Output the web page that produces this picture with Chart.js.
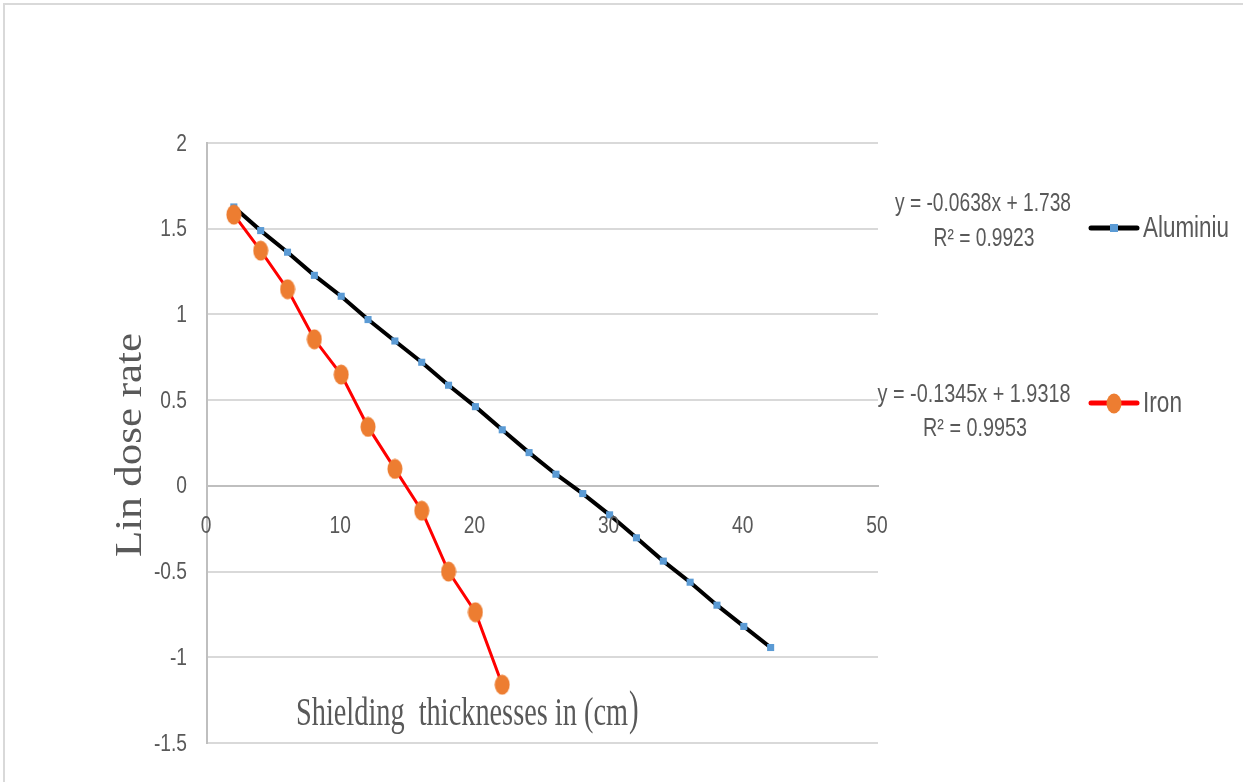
<!DOCTYPE html>
<html>
<head>
<meta charset="utf-8">
<script src="https://cdn.jsdelivr.net/npm/chart.js@4.4.1/dist/chart.umd.min.js"></script>
<style>
  html, body { margin: 0; padding: 0; background: #fff; }
  #wrap { width: 1243px; height: 782px; position: relative; }
</style>
</head>
<body>
<div id="wrap"><canvas id="chart" width="1243" height="782"></canvas></div>
<script>
// shielding thickness (cm) and ln dose rate readings
var thicknessAl = [2, 4, 6, 8, 10, 12, 14, 16, 18, 20, 22, 24, 26, 28, 30, 32, 34, 36, 38, 40, 42];
var doseAl = [1.627, 1.489, 1.363, 1.228, 1.106, 0.970, 0.845, 0.721, 0.587, 0.462, 0.327,
              0.194, 0.068, -0.045, -0.169, -0.303, -0.439, -0.562, -0.696, -0.820, -0.943];

var thicknessFe = [2, 4, 6, 8, 10, 12, 14, 16, 18, 20, 22];
var doseFe = [1.582, 1.372, 1.147, 0.855, 0.649, 0.344, 0.099, -0.145, -0.500, -0.737, -1.160];

var seriesNames = ['Aluminiu', 'Iron'];
var trendLines = [
  ['y = -0.0638x + 1.738', 'R\u00b2 = 0.9923'],
  ['y = -0.1345x + 1.9318', 'R\u00b2 = 0.9953']
];
var xTicks = [0, 10, 20, 30, 40, 50];
var yRange = [-1.5, 2];

var xTitle = 'Shielding  thicknesses in (cm';
var yTitle = 'Lin dose rate';

var textGrey = '#595959';
var sans = '"Liberation Sans", Arial, sans-serif';
var squeeze = 0.8; // the original uses a condensed face

function toPoints(xs, ys) {
  var pts = [];
  xs.forEach(function (x, i) {
    pts.push({x: x, y: ys[i]});
  });
  return pts;
}

function makeEllipse(w, h, color) {
  var c = document.createElement('canvas');
  c.width = w;
  c.height = h;
  var g = c.getContext('2d');
  g.fillStyle = color;
  g.beginPath();
  g.ellipse(w / 2, h / 2, w / 2 - 0.5, h / 2 - 0.5, 0, 0, 2 * Math.PI);
  g.fill();
  return c;
}

var ironDot = makeEllipse(16, 21, '#ed7d31');

// draw text centred on (cx, cy), squeezed to a given width
function fitText(ctx, text, cx, cy, width, font, cross) {
  ctx.save();
  ctx.font = font;
  ctx.fillStyle = textGrey;
  ctx.textAlign = 'center';
  ctx.textBaseline = 'middle';
  var m = ctx.measureText(text).width;
  ctx.translate(cx, cy);
  ctx.scale(width / m, cross || 1);
  ctx.fillText(text, 0, 0);
  ctx.restore();
}

// condensed text with a given alignment
function narrowText(ctx, text, x, y, align, size) {
  ctx.save();
  ctx.font = size + 'px ' + sans;
  ctx.fillStyle = textGrey;
  ctx.textAlign = align;
  ctx.textBaseline = 'middle';
  ctx.translate(x, y);
  ctx.scale(squeeze, 1);
  ctx.fillText(text, 0, 0);
  ctx.restore();
}

var decorPlugin = {
  id: 'decor',
  beforeDraw: function (chart) {
    var ctx = chart.ctx;
    ctx.save();
    ctx.strokeStyle = '#d9d9d9';
    ctx.lineWidth = 2;
    ctx.beginPath();
    ctx.moveTo(4, chart.height);
    ctx.lineTo(4, 4);
    ctx.lineTo(chart.width, 4);
    ctx.stroke();
    ctx.restore();
  },
  afterDraw: function (chart) {
    var ctx = chart.ctx;
    var xs = chart.scales.x;
    var ys = chart.scales.y;

    // tick labels, placed from the scales
    ys.ticks.forEach(function (t) {
      narrowText(ctx, String(t.value), ys.right - 20, ys.getPixelForValue(t.value) + 1, 'right', 24);
    });
    var xLabelY = ys.getPixelForValue(0) + 41;
    xs.ticks.forEach(function (t) {
      narrowText(ctx, String(t.value), xs.getPixelForValue(t.value) - 1, xLabelY, 'center', 24);
    });

    // axis titles
    fitText(ctx, xTitle, 462, 714, 332, '41px "Liberation Serif", serif');
    ctx.save();
    ctx.font = '48px "Liberation Serif", serif';
    ctx.fillStyle = textGrey;
    ctx.textBaseline = 'middle';
    ctx.translate(629, 711);
    ctx.scale(0.6, 1);
    ctx.fillText(')', 0, 0);
    ctx.restore();

    ctx.save();
    ctx.translate(131, 445);
    ctx.rotate(-Math.PI / 2);
    fitText(ctx, yTitle, 0, 0, 224, '43px "Liberation Serif", serif', 0.86);
    ctx.restore();

    // trend line equations
    fitText(ctx, trendLines[0][0], 983, 204, 176, '26px ' + sans);
    fitText(ctx, trendLines[0][1], 984, 239, 101, '26px ' + sans);
    fitText(ctx, trendLines[1][0], 974, 395, 193, '26px ' + sans);
    fitText(ctx, trendLines[1][1], 975, 429, 104, '26px ' + sans);

    // legend
    var legendY = [228, 403];
    var legendW = [86, 39];
    chart.data.datasets.forEach(function (ds, i) {
      var y = legendY[i];
      ctx.save();
      ctx.strokeStyle = ds.borderColor;
      ctx.lineWidth = 5;
      ctx.lineCap = 'round';
      ctx.beginPath();
      ctx.moveTo(1091, y);
      ctx.lineTo(1137, y);
      ctx.stroke();
      if (ds.pointStyle === 'rect') {
        ctx.fillStyle = ds.pointBackgroundColor;
        ctx.fillRect(1110, y - 4, 8, 8);
      } else {
        ctx.drawImage(ds.pointStyle, 1114 - 8, y - 10);
      }
      ctx.restore();
      fitText(ctx, seriesNames[i], 1143 + legendW[i] / 2, y + 1, legendW[i], '29px ' + sans);
    });
  }
};

var ctx = document.getElementById('chart').getContext('2d');

window.doseChart = new Chart(ctx, {
  type: 'scatter',
  data: {
    datasets: [{
      label: seriesNames[0],
      data: toPoints(thicknessAl, doseAl),
      showLine: true,
      borderColor: '#000000',
      borderWidth: 4,
      pointStyle: 'rect',
      pointRadius: 5,
      pointBorderWidth: 0,
      pointBackgroundColor: '#5b9bd5',
      order: 1
    }, {
      label: seriesNames[1],
      data: toPoints(thicknessFe, doseFe),
      showLine: true,
      borderColor: '#ff0000',
      borderWidth: 3,
      pointStyle: ironDot,
      pointBackgroundColor: '#ed7d31',
      order: 0
    }]
  },
  options: {
    responsive: false,
    animation: false,
    layout: {
      padding: {left: 0, top: 143, right: 365, bottom: 39}
    },
    plugins: {
      legend: {display: false},
      tooltip: {enabled: false}
    },
    scales: {
      x: {
        type: 'linear',
        position: {y: 0},
        min: xTicks[0],
        max: xTicks[xTicks.length - 1],
        afterBuildTicks: function (scale) {
          scale.ticks = xTicks.map(function (v) { return {value: v}; });
        },
        grid: {display: false, drawTicks: false},
        border: {display: true, color: '#bfbfbf', width: 2},
        ticks: {display: false}
      },
      y: {
        min: yRange[0],
        max: yRange[1],
        afterFit: function (scale) {
          scale.width = 207;
        },
        grid: {
          color: function (c) {
            return c.tick && c.tick.value === 0 ? '#bfbfbf' : '#d9d9d9';
          },
          lineWidth: 2,
          drawTicks: false
        },
        border: {display: true, color: '#bfbfbf', width: 2},
        ticks: {stepSize: 0.5, display: false}
      }
    }
  },
  plugins: [decorPlugin]
});
</script>
</body>
</html>
